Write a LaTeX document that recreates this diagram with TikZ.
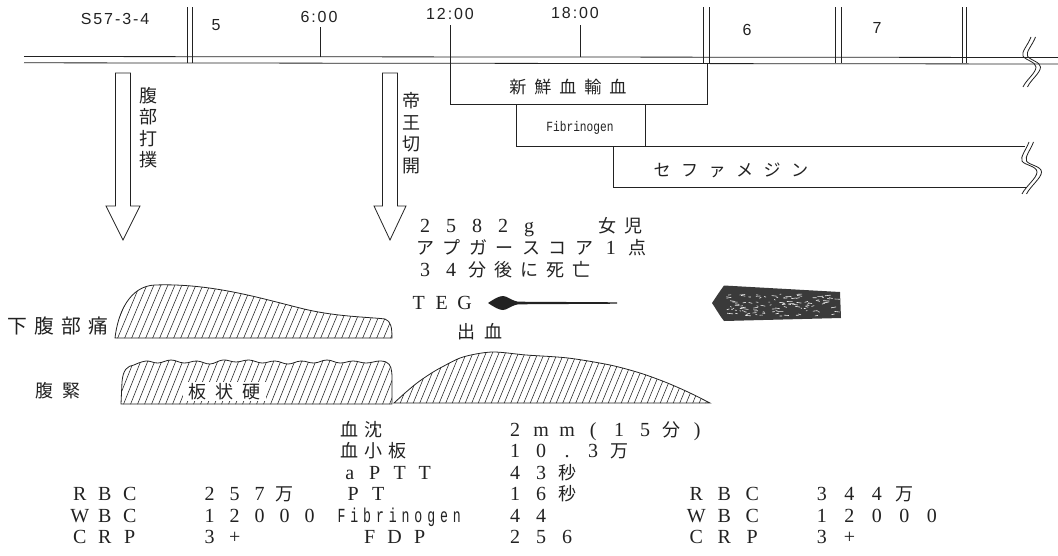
\documentclass[tikz,border=0pt]{standalone}
\usepackage{fontspec}
\usepackage{graphicx}
\setmainfont{Liberation Serif}
\newfontfamily\jp[Scale=0.9]{Noto Sans CJK JP}
\newfontfamily\jpn{Noto Sans CJK JP}
\newfontfamily\ts[LetterSpace=12]{Liberation Sans}
\newfontfamily\mono{Liberation Mono}
\definecolor{ink}{HTML}{222222}
\definecolor{blobc}{HTML}{3A3A3A}
\makeatletter
\newcommand\pp[2]{\def\pp@w{#1}\pp@a#2\pp@stop}
\def\pp@stop{\pp@stop}
\def\pp@a#1{\ifx\pp@stop#1\else\makebox[\pp@w][c]{\ifnum`#1>"2FFF\relax\jp\fi#1}\expandafter\pp@a\fi}
\makeatother
\tikzset{
 ln/.style={draw=ink, line width=0.8pt},
 hl/.style={draw=ink, line width=0.55pt},
 tl/.style={text=ink, inner sep=0pt, anchor=base, font=\ts\fontsize{16}{16}\selectfont},
 tc/.style={text=ink, inner sep=0pt, anchor=base, font=\fontsize{20}{20}\selectfont},
 lab/.style={text=ink, inner sep=0pt, anchor=base west, font=\fontsize{20}{20}\selectfont},
 vt/.style={text=ink, inner sep=0pt, align=center, font=\jpn\fontsize{18}{21.5}\selectfont},
}
\def\shA{(115,338) .. controls (118,312) and (130,286) .. (155,285) .. controls (210,283) and (260,298) .. (300,308) .. controls (335,317) and (370,317) .. (385,319) .. controls (391,321) and (392,328) .. (392,338) -- cycle}
\def\shB{(121,404) -- (122,382) .. controls (123,370) and (127,366) .. (134,365) -- plot[smooth, tension=0.7] coordinates {(134,365) (146,361) (158,363) (171,360) (184,363) (197,361) (210,364) (223,360) (236,362) (249,360) (262,363) (275,361) (288,364) (301,361) (314,363) (327,360) (340,363) (353,361) (366,363) (379,361) (386,362)} .. controls (391,364) and (392,370) .. (392,378) -- (392,404) -- cycle}
\def\shC{(394,403) -- plot[smooth] coordinates {(394,403) (405,393) (417,383) (430,374) (442,367) (463,357) (492,352) (526,355) (568,358) (610,365) (640,373) (665,382) (688,392) (710,403)} -- cycle}
\begin{document}
\begin{tikzpicture}[x=1pt,y=-1pt]
\useasboundingbox (0,0) rectangle (1058,555);
\fill[white] (0,0) rectangle (1058,555);

% timeline
\draw[ln] (24,56.5) -- (1058,57.5);
\draw[ln] (24,62.8) -- (1058,64);
\foreach \a in {187.5,192,703,709,835,841,962,966} \draw[ln] (\a,7) -- (\a,63);
\draw[ln] (320,27) -- (320,56.5);
\draw[ln] (580,25) -- (580,56.5);
% transfusion boxes
\draw[ln] (450,25) -- (450,104) -- (707,104) -- (707,63);
\draw[ln] (516,104) -- (516,146) -- (1025,146);
\draw[ln] (645,104) -- (645,146);
\draw[ln] (613,146) -- (613,187) -- (1027,187);
% break marks
\foreach \d in {0,4.5}{
 \draw[ln,xshift=\d] (1031,37) .. controls (1028,45) and (1021,52) .. (1023,56) .. controls (1025,60) and (1036,62) .. (1036,67) .. controls (1036,73) and (1026,80) .. (1023,87);
 \draw[ln,xshift=\d] (1029,142) .. controls (1026,150) and (1020,157) .. (1022,161) .. controls (1024,165) and (1037,166) .. (1037,172) .. controls (1037,178) and (1026,186) .. (1022,194);
}

% top labels
\node[tl] (d0) at (115,24.7) {S57-3-4};
\node[tl] (d5) at (216,30.7) {5};
\node[tl] (t6) at (319,22.7) {6:00};
\node[tl] (t12) at (450,19.7) {12:00};
\node[tl] (t18) at (575,18.7) {18:00};
\node[tl] (d6) at (747,35.7) {6};
\node[tl] (d7) at (877,33.7) {7};

% box texts
\node[tc] (ffp) at (568,93) {\fontsize{19}{19}\selectfont\pp{25pt}{新鮮血輸血}};
\node[tc] (fibt) at (580,131) {\scalebox{0.8}[1]{\mono\fontsize{14}{14}\selectfont Fibrinogen}};
\node[tc] (cef) at (731,176) {\fontsize{19}{19}\selectfont\pp{27.5pt}{セファメジン}};

% hollow arrows
\draw[ln, fill=white] (115.5,73) -- (130.5,73) -- (130.5,206) -- (140,206) -- (123,240) -- (106,206) -- (115.5,206) -- cycle;
\draw[ln, fill=white] (382.5,73) -- (397.5,73) -- (397.5,206) -- (406,206) -- (390,240) -- (374,206) -- (382.5,206) -- cycle;
\node[vt] (blow) at (148,127.5) {腹\\部\\打\\撲};
\node[vt] (cs) at (411,133) {帝\\王\\切\\開};

% baby
\node[lab] (wt) at (412,232.5) {\pp{26pt}{2582g~~女児}};
\node[lab] (apg) at (412,254.5) {\pp{26.5pt}{アプガースコア1点}};
\node[lab] (die) at (412,276.5) {\pp{26pt}{34分後に死亡}};

% TEG
\node[lab] (teg) at (407,309.5) {\pp{23pt}{TEG}};
\fill[ink] (488,303) .. controls (494,299) and (499,296) .. (503,296) .. controls (507,296) and (510,300) .. (518,301.7) -- (617,302.3) -- (617,303.7) -- (518,304.3) .. controls (510,306) and (507,310) .. (503,310) .. controls (499,310) and (494,307) .. (488,303) -- cycle;
\fill[blobc] (712,303) .. controls (716,297) and (720,291) .. (724,285.5) -- (840,292) -- (841,318) -- (724,321) .. controls (720,316) and (716,309) .. (712,303) -- cycle;
\pgfmathsetseed{7}
\foreach \i in {1,...,110}{
 \pgfmathsetmacro\xx{rnd*110+726}
 \pgfmathsetmacro\yy{rnd*22+294}
 \draw[white!85!gray, line width=0.6pt] (\xx,\yy) -- ++(rnd*5+1, rnd*2-1);
}
\node[tc] (bleed) at (480,338.5) {\pp{27pt}{出血}};

% symptom curves
\begin{scope}
 \clip \shA;
 \foreach \x in {60,67,...,420} \draw[hl] (\x,342) -- ++(26,-62);
\end{scope}
\draw[ln] \shA;
\node[lab] (pain) at (4,333.5) {\fontsize{22}{22}\selectfont\pp{27pt}{下腹部痛}};

\begin{scope}
 \clip \shB;
 \foreach \x in {80,87,...,420} \draw[hl] (\x,408) -- ++(20,-50);
\end{scope}
\node[tc, fill=white, inner sep=1pt] (board) at (224,398.5) {\pp{27pt}{板状硬}};
\draw[ln] \shB;
\node[tc] (tens) at (58,397.5) {\pp{27pt}{腹緊}};

\begin{scope}
 \clip \shC;
 \foreach \x in {360,366.5,...,720} \draw[hl] (\x,406) -- ++(24,-58);
\end{scope}
\draw[ln] \shC;

% lab table middle
\node[lab] (sedl) at (337.5,436) {\pp{24pt}{血沈}};
\node[lab] (pltl) at (337.5,457.5) {\pp{24pt}{血小板}};
\node[lab] (apttl) at (337,479) {\pp{25pt}{aPTT}};
\node[lab] (ptl) at (340.5,500.5) {\pp{25pt}{PT}};
\node[lab] (fibl) at (335,522) {\scalebox{0.66}[1]{\mono\pp{19.4pt}{Fibrinogen}}};
\node[lab] (fdpl) at (357,543.5) {\pp{25pt}{FDP}};
\node[lab] (sedv) at (502,436) {\pp{26pt}{2mm(15分)}};
\node[lab] (pltv) at (502,457.5) {\pp{26pt}{10.3万}};
\node[lab] (apttv) at (502,479) {\pp{26pt}{43秒}};
\node[lab] (ptv) at (502,500.5) {\pp{26pt}{16秒}};
\node[lab] (fibv) at (502,522) {\pp{26pt}{44}};
\node[lab] (fdpv) at (502,543.5) {\pp{26pt}{256}};
% left
\node[lab] (rbcL) at (67,500.5) {\pp{25pt}{RBC}};
\node[lab] (wbcL) at (67,522) {\pp{25pt}{WBC}};
\node[lab] (crpL) at (67,543.5) {\pp{25pt}{CRP}};
\node[lab] (rbcLv) at (197,500.5) {\pp{25pt}{257万}};
\node[lab] (wbcLv) at (197,522) {\pp{25pt}{12000}};
\node[lab] (crpLv) at (197,543.5) {\pp{25pt}{3+}};
% right
\node[lab] (rbcR) at (682,500.5) {\pp{28pt}{RBC}};
\node[lab] (wbcR) at (682,522) {\pp{28pt}{WBC}};
\node[lab] (crpR) at (682,543.5) {\pp{28pt}{CRP}};
\node[lab] (rbcRv) at (808,500.5) {\pp{27.5pt}{344万}};
\node[lab] (wbcRv) at (808,522) {\pp{27.5pt}{12000}};
\node[lab] (crpRv) at (808,543.5) {\pp{27.5pt}{3+}};
\end{tikzpicture}
\end{document}
